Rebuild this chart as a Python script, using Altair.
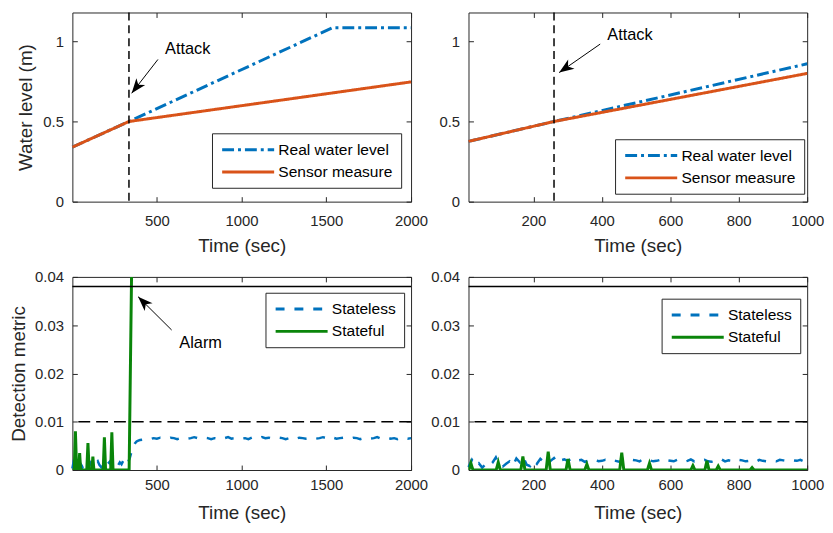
import math
import altair as alt
import pandas as pd

FONT = "Liberation Sans"
BLUE = "#0072BD"
ORANGE = "#D95319"
GREEN = "#0A850A"
INK = "#262626"

W = 342
H_TOP, H_BOT = 191, 195

# ---------------- data ----------------
# top-left: long horizon
tl_real_t = [1, 335, 1537, 2000]
tl_real_v = [0.340, 0.500, 1.085, 1.085]
tl_sensor_t = [1, 335, 2000]
tl_sensor_v = [0.340, 0.500, 0.747]
tl_attack_t = [335]

# top-right: short horizon
tr_real_t = [10, 260, 1000]
tr_real_v = [0.376, 0.500, 0.860]
tr_sensor_t = [10, 260, 1000]
tr_sensor_v = [0.376, 0.500, 0.800]
tr_attack_t = [260]

# annotations: label, text position (t, v), arrow (t0, v0 -> t1, v1)
tl_note = ["Attack", 682, 0.955]
tl_arrow = [506, 0.887, 351, 0.676]
tr_note = ["Attack", 482, 1.040]
tr_arrow = [395, 0.983, 275, 0.805]
bl_note = ["Alarm", 758, 0.0264]
bl_arrow = [587, 0.0290, 389, 0.0359]

thresholds = [0.038, 0.010]  # solid, dashed

# detection metric values, units of 1e-4
bl_stateless_pre = [3, 22, 14, 9, 17, 12, 6, 15, 19, 11, 8, 16, 13, 7, 14, 18, 10,
                    6, 12, 15, 9, 13, 17, 8, 11, 14, 6, 10, 16, 12, 19, 14, 21, 17]  # t = 1..331 step 10
bl_stateless_rise_t = [340, 350, 360, 370, 380, 390, 400]
bl_stateless_rise_v = [25, 38, 48, 55, 59, 61, 62]
bl_stateless_post = [63, 65, 64, 66, 65, 67, 66, 65, 67, 66,
                     64, 66, 67, 65, 66, 68, 66, 65, 67, 66,
                     64, 66, 65, 67, 66, 68, 65, 66, 67, 65,
                     66, 64, 67, 66, 65, 68, 66, 67, 65, 66,
                     67, 66, 64, 66, 68, 65, 67, 66, 65, 66,
                     67, 65, 66, 68, 66, 64, 67, 65, 66, 67,
                     66, 65, 67, 66, 64, 66, 67, 65, 66, 68,
                     65, 66, 67, 65, 66, 64, 67, 66, 65, 66]  # t = 420..2000 step 20
bl_stateful_t = [1, 12, 19, 26, 38, 44, 50, 86, 93, 100, 116, 122, 128,
                 183, 190, 197, 227, 234, 241, 336, 352, 2000]
bl_stateful_v = [0, 0, 80, 0, 0, 35, 0, 0, 56, 0, 0, 28, 0,
                 0, 68, 0, 0, 78, 0, 0, 450, 3000]

br_stateless = [6, 21, 9, 14, 5, 12, 8, 15, 26, 10, 7, 13, 18, 9, 24, 16, 27, 11,
                8, 20, 13, 23, 17, 10, 19, 25, 15,
                20, 22, 19, 23, 18, 20, 21, 17, 19, 20,
                22, 18, 19, 21, 18, 20, 19, 17, 20, 18,
                19, 21, 20, 18, 22, 19, 20, 18, 19, 21,
                17, 20, 19, 18, 21, 20, 17, 19, 22, 18,
                20, 19, 21, 18, 17, 20, 19, 22, 18, 20,
                19, 17, 21, 20, 18, 19, 20, 17, 21, 19,
                18, 20, 19, 18, 21, 20, 19, 18, 20, 19,
                21, 18, 20]  # t = 10..1000 step 10
br_stateful_t = [10, 11, 17, 23, 91, 97, 103, 163, 169, 175, 237, 243, 249,
                 295, 301, 307, 350, 356, 362, 452, 458, 464, 533, 539, 545,
                 660, 666, 672, 701, 707, 713, 734, 740, 746, 833, 839, 845, 1000]
br_stateful_v = [0, 0, 14, 0, 0, 16, 0, 0, 28, 0, 0, 38, 0,
                 0, 23, 0, 0, 12, 0, 0, 36, 0, 0, 14, 0,
                 0, 9, 0, 0, 19, 0, 0, 8, 0, 0, 5, 0, 0]

TOP_SERIES = ["Real water level", "Sensor measure"]
BOT_SERIES = ["Stateless", "Stateful"]
DASH_DOT = [12, 4, 3, 4]
SOLID = [1, 0]
DASHED = [9, 10]

ARROW_HEAD = "M0,0 L0.75,2 L0,1.45 L-0.75,2 Z"
LEGEND_LINE = "M-3.75,0 L3.75,0"   # ~52 px long at symbolSize 196


def make_axes(xdom, ydom, xvals, yvals, yfmt, ytitle, xlabpad, xtitlepad, ytitlepad, h):
    xax = alt.Axis(values=xvals, format="d", title="Time (sec)", grid=True,
                   gridDash=[5, h - 10, 5, 4000], labelPadding=xlabpad,
                   titlePadding=xtitlepad, labelFlush=False)
    yax = alt.Axis(values=yvals, format=yfmt, title=ytitle, grid=True,
                   gridDash=[5, W - 10, 5, 4000], labelPadding=9,
                   titlePadding=ytitlepad, labelFlush=False)
    xs = alt.Scale(domain=xdom, nice=False, zero=False, padding=0)
    ys = alt.Scale(domain=ydom, nice=False, zero=False, padding=0)
    return xax, yax, xs, ys


def annotations(note, arrow, xdom, ydom, X, Y, h):
    sx = W / (xdom[1] - xdom[0])
    sy = h / (ydom[1] - ydom[0])
    t0, v0, t1, v1 = arrow
    dx = (t1 - t0) * sx
    dy = -(v1 - v0) * sy
    ang = math.degrees(math.atan2(dx, -dy)) % 360
    adf = pd.DataFrame({"t": [t0], "v": [v0], "t2": [t1], "v2": [v1]})
    hdf = pd.DataFrame({"t": [t1], "v": [v1], "a": [ang]})
    ndf = pd.DataFrame({"t": [note[1]], "v": [note[2]], "label": [note[0]]})
    shaft = alt.Chart(adf).mark_rule(color="black", strokeWidth=1).encode(
        x=X, y=Y, x2="t2:Q", y2="v2:Q")
    head = alt.Chart(hdf).mark_point(shape=ARROW_HEAD, filled=True, color="black",
                                     opacity=1, size=225, strokeWidth=0).encode(
        x=X, y=Y, angle=alt.Angle("a:Q", scale=None))
    text = alt.Chart(ndf).mark_text(font=FONT, fontSize=16.5, color="black",
                                    align="center", baseline="middle").encode(
        x=X, y=Y, text="label:N")
    return [shaft, head, text]


def top_panel(real_t, real_v, sens_t, sens_v, attack_t, note, arrow, xdom, xvals,
              ytitle, lx, ly):
    h = H_TOP
    ydom = [0, 1.18]
    xax, yax, xs, ys = make_axes(xdom, ydom, xvals, [0, 0.5, 1], ".1~f", ytitle, 12, 8, 7, h)
    X = alt.X("t:Q", scale=xs, axis=xax)
    Y = alt.Y("v:Q", scale=ys, axis=yax)
    df = pd.concat([
        pd.DataFrame({"t": real_t, "v": real_v, "series": TOP_SERIES[0]}),
        pd.DataFrame({"t": sens_t, "v": sens_v, "series": TOP_SERIES[1]}),
    ])
    leg = alt.Legend(title=None, orient="none", legendX=lx, legendY=ly)
    lines = alt.Chart(df).mark_line(strokeWidth=3).encode(
        x=X, y=Y,
        color=alt.Color("series:N", scale=alt.Scale(domain=TOP_SERIES, range=[BLUE, ORANGE]), legend=leg),
        strokeDash=alt.StrokeDash("series:N", scale=alt.Scale(domain=TOP_SERIES, range=[DASH_DOT, SOLID]), legend=leg),
        detail="series:N",
    )
    rule = alt.Chart(pd.DataFrame({"t": attack_t})).mark_rule(
        color="black", strokeWidth=1.5, strokeDash=[8, 5]).encode(x=X)
    layers = [lines, rule] + annotations(note, arrow, xdom, ydom, X, Y, h)
    return alt.layer(*layers).properties(width=W, height=h)


def bottom_panel(sl_t, sl_v, sf_t, sf_v, note, arrow, xdom, xvals, ytitle, lx, ly):
    h = H_BOT
    ydom = [0, 0.04]
    xax, yax, xs, ys = make_axes(xdom, ydom, xvals, [0, 0.01, 0.02, 0.03, 0.04], ".2~f",
                                 ytitle, 8, 11, 6.5, h)
    X = alt.X("t:Q", scale=xs, axis=xax)
    Y = alt.Y("v:Q", scale=ys, axis=yax)
    leg = alt.Legend(title=None, orient="none", legendX=lx, legendY=ly)
    cscale = alt.Scale(domain=BOT_SERIES, range=[BLUE, GREEN])
    dscale = alt.Scale(domain=BOT_SERIES, range=[DASHED, SOLID])
    sl = pd.DataFrame({"t": sl_t, "v": [x * 1e-4 for x in sl_v], "series": BOT_SERIES[0]})
    sf = pd.DataFrame({"t": sf_t, "v": [x * 1e-4 for x in sf_v], "series": BOT_SERIES[1]})
    l1 = alt.Chart(sl).mark_line(strokeWidth=2.5).encode(
        x=X, y=Y,
        color=alt.Color("series:N", scale=cscale, legend=leg),
        strokeDash=alt.StrokeDash("series:N", scale=dscale, legend=leg))
    l2 = alt.Chart(sf).mark_line(strokeWidth=3, clip=True).encode(
        x=X, y=Y,
        color=alt.Color("series:N", scale=cscale, legend=leg),
        strokeDash=alt.StrokeDash("series:N", scale=dscale, legend=leg))
    r1 = alt.Chart(pd.DataFrame({"v": [thresholds[0]]})).mark_rule(
        color="black", strokeWidth=1.5).encode(y=Y)
    r2 = alt.Chart(pd.DataFrame({"v": [thresholds[1]]})).mark_rule(
        color="black", strokeWidth=1.5, strokeDash=[12, 6]).encode(y=Y)
    layers = [l1, l2, r1, r2]
    if note is not None:
        layers += annotations(note, arrow, xdom, ydom, X, Y, h)
    return alt.layer(*layers).properties(width=W, height=h)


bl_t = list(range(1, 332, 10)) + bl_stateless_rise_t + [420 + 20 * i for i in range(len(bl_stateless_post))]
bl_v = bl_stateless_pre + bl_stateless_rise_v + bl_stateless_post
br_t = [10 + 10 * i for i in range(len(br_stateless))]

tl = top_panel(tl_real_t, tl_real_v, tl_sensor_t, tl_sensor_v, tl_attack_t, tl_note, tl_arrow,
               [1, 2000], [500, 1000, 1500, 2000], "Water level (m)", 141, 122)
tr = top_panel(tr_real_t, tr_real_v, tr_sensor_t, tr_sensor_v, tr_attack_t, tr_note, tr_arrow,
               [10, 1000], [200, 400, 600, 800, 1000], None, 148, 128)
bl = bottom_panel(bl_t, bl_v, bl_stateful_t, bl_stateful_v, bl_note, bl_arrow,
                  [1, 2000], [500, 1000, 1500, 2000], "Detection metric", 195, 16)
br = bottom_panel(br_t, br_stateless, br_stateful_t, br_stateful_v, None, None,
                  [10, 1000], [200, 400, 600, 800, 1000], None, 195, 22)

chart = alt.concat(
    tl, tr, bl, br, columns=2, spacing={"row": 76, "column": 58}, bounds="flush"
).resolve_scale(
    color="independent", strokeDash="independent"
).properties(
    padding={"left": 0, "top": 0, "right": 0, "bottom": 0}
).configure(
    font=FONT
).configure_view(
    stroke=INK, strokeWidth=1
).configure_axis(
    labelFont=FONT, labelFontSize=15, labelColor=INK,
    titleFont=FONT, titleFontSize=19, titleColor=INK, titleFontWeight="normal",
    ticks=False, tickSize=0, domain=False,
    gridColor=INK, gridOpacity=1, gridWidth=1,
).configure_legend(
    labelFont=FONT, labelFontSize=15.7, labelColor="black",
    symbolType=LEGEND_LINE, symbolSize=196, symbolStrokeWidth=3,
    strokeColor=INK, fillColor="white", padding=8, cornerRadius=0,
    labelOffset=22, rowPadding=5.5, symbolOffset=20, labelLimit=300,
)

chart.save("out.html", embed_options={"renderer": "svg", "actions": False})
